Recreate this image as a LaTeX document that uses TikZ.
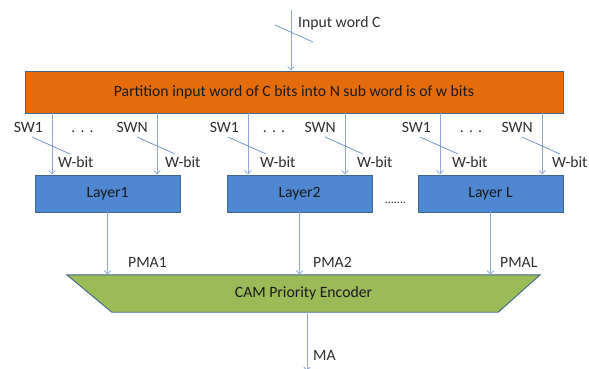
\documentclass[tikz,border=0pt]{standalone}
\usepackage{fontspec}
\setmainfont{Carlito}
\usetikzlibrary{arrows.meta}

\definecolor{partfill}{HTML}{E46C0A}
\definecolor{layerfill}{HTML}{4F87D0}
\definecolor{camfill}{HTML}{9BBB59}
\definecolor{edge}{HTML}{41668F}
\definecolor{wire}{HTML}{8EA9D6}
\definecolor{tick}{HTML}{6A8CC0}
\definecolor{lbltext}{HTML}{2E2E2E}
\definecolor{boxtext}{HTML}{1A1A1A}

\tikzset{
  wirearrow/.style={draw=wire, line width=0.8pt, -{Straight Barb[length=3.5pt,width=6.5pt]}},
  busmark/.style={draw=tick, line width=0.7pt},
  lbl/.style={text=lbltext, inner sep=0pt},
  partbox/.style={draw=edge, line width=0.9pt, fill=partfill, text=boxtext,
    minimum width=538pt, minimum height=42pt, inner sep=0pt},
  layerbox/.style={draw=edge, line width=0.9pt, fill=layerfill, text=boxtext,
    minimum width=145pt, minimum height=37pt, inner sep=0pt}
}

\begin{document}
\begin{tikzpicture}[x=1pt, y=-1pt, font=\fontsize{15.7}{18}\selectfont]
\useasboundingbox (0,0) rectangle (589,369);

% partition block and its input
\node[partbox] (part) at (294,92) {Partition input word of C bits into N sub word is of w bits};
\coordinate (inTop) at (291,10);
\draw[wirearrow] (inTop) -- (inTop |- part.north);
\draw[busmark] (275,25) -- (313,42);
\node[lbl, anchor=base west] (inLbl) at (298,28) {Input word C};

% layers
\node[layerbox] (L1) at (107.5,193.5) {Layer1};
\node[layerbox] (L2) at (299.5,193.5) {Layer2};
\node[layerbox] (L3) at (490.5,193.5) {Layer L};
\node[lbl, anchor=base, font=\fontsize{12}{14}\selectfont] (ldots) at (395.5,203) {.......};

% sub-word buses into the layers
\foreach \i/\x/\lay/\sw/\wx in {1/52/L1/SW1/58, 2/157/L1/SWN/165, 3/248/L2/SW1/260,
                                4/345/L2/SWN/357, 5/440/L3/SW1/452, 6/542/L3/SWN/552}{
  \coordinate (bus\i) at (\x,0);
  \draw[wirearrow] (part.south -| bus\i) -- (\lay.north -| bus\i);
  \draw[busmark] (\x-20,137) -- (\x+18,154);
  \node[lbl, anchor=base east] (sw\i) at (\x-9,132) {\sw};
  \node[lbl, anchor=base west] (wb\i) at (\wx,167) {W-bit};
}
\node[lbl, anchor=base] (dots1) at (82.5,132) {.\,\,.\,\,.};
\node[lbl, anchor=base] (dots2) at (274,132) {.\,\,.\,\,.};
\node[lbl, anchor=base] (dots3) at (471,132) {.\,\,.\,\,.};

% priority encoder
\node[minimum width=473pt, minimum height=37pt, inner sep=0pt] (cam) at (303.5,293.5) {};
\filldraw[draw=edge, line width=0.9pt, fill=camfill]
  (cam.north west) -- (cam.north east) -- ([xshift=-42pt]cam.south east)
  -- ([xshift=45pt]cam.south west) -- cycle;
\node[text=boxtext, inner sep=0pt] (camText) at (cam.center) {CAM Priority Encoder};

\draw[wirearrow] (L1.south) -- (L1.south |- cam.north);
\draw[wirearrow] (L2.south) -- (L2.south |- cam.north);
\draw[wirearrow] (L3.south) -- (L3.south |- cam.north);
\node[lbl, anchor=base west] (pma1) at (128,267) {PMA1};
\node[lbl, anchor=base west] (pma2) at (313,267) {PMA2};
\node[lbl, anchor=base west] (pmaL) at (500,267) {PMAL};

% output
\coordinate (maEnd) at (307,371);
\draw[wirearrow] (cam.south -| maEnd) -- (maEnd);
\node[lbl, anchor=base west] (maLbl) at (313,360) {MA};
\end{tikzpicture}
\end{document}
